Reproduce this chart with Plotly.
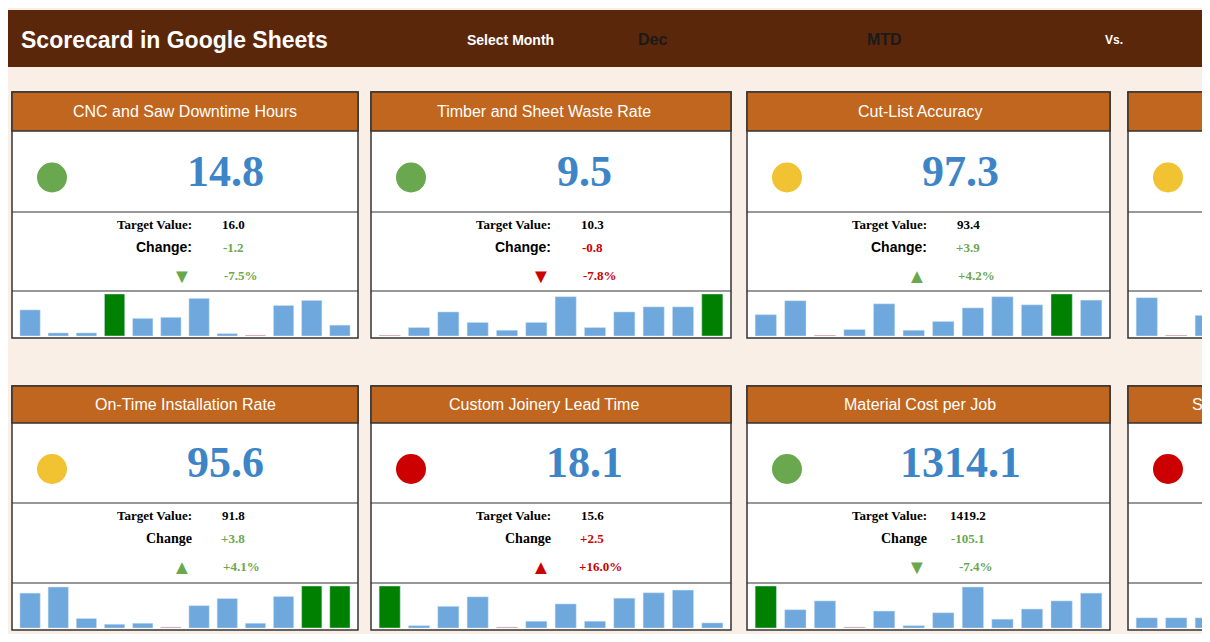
import plotly.graph_objects as go

W, H = 1210, 642
OFF = 8  # page body margin of the html page
FW, FH = W - 2 * OFF, H - 2 * OFF

# card data
titles = ["CNC and Saw Downtime Hours", "Timber and Sheet Waste Rate", "Cut-List Accuracy", "",
          "On-Time Installation Rate", "Custom Joinery Lead Time", "Material Cost per Job", "Snagging Items per Job"]
values = ["14.8", "9.5", "97.3", "", "95.6", "18.1", "1314.1", ""]
targets = ["16.0", "10.3", "93.4", "", "91.8", "15.6", "1419.2", ""]
changes = ["-1.2", "-0.8", "+3.9", "", "+3.8", "+2.5", "-105.1", ""]
pcts = ["-7.5%", "-7.8%", "+4.2%", "", "+4.1%", "+16.0%", "-7.4%", ""]
arrows = ["▼", "▼", "▲", "", "▲", "▲", "▼", ""]
good = [True, False, True, None, True, False, True, None]
status = ["#6aa84f", "#6aa84f", "#f1c232", "#f1c232", "#f1c232", "#cc0000", "#6aa84f", "#cc0000"]
spark = [
    [77, 9, 9, 124, 52, 55, 111, 7, 0, 90, 105, 32],
    [0, 25, 71, 40, 17, 40, 116, 25, 71, 86, 86, 124],
    [63, 104, 0, 19, 95, 17, 43, 83, 116, 92, 124, 106],
    [113, 0, 61, 40, 70, 55, 90, 80, 100, 124, 60, 75],
    [103, 121, 28, 11, 14, 0, 66, 87, 14, 93, 124, 124],
    [124, 7, 64, 92, 0, 20, 71, 20, 88, 104, 112, 15],
    [124, 54, 80, 0, 50, 7, 45, 121, 26, 56, 80, 103],
    [30, 30, 30, 45, 60, 124, 40, 70, 55, 90, 80, 35],
]

lefts = [12, 371, 747, 1128]
rights = [358, 731, 1110, 1500]
rows = [dict(top=92, hb=131, vb=212, db=291, bot=338),
        dict(top=386, hb=423, vb=503, db=583, bot=630)]


def px(x):
    return (x - OFF) / FW


def py(y):
    return 1 - (y - OFF) / FH


shapes, ann = [], []
fig = go.Figure()

# top banner
shapes.append(dict(type="rect", xref="paper", yref="paper", x0=0, x1=1, y0=py(67), y1=py(10),
                   fillcolor="#5b270b", line_width=0, layer="below"))
ann += [
    dict(x=px(330), y=py(40), text="<b>Scorecard in Google Sheets</b>", xanchor="right",
         font=dict(size=23, color="white", family="Liberation Sans")),
    dict(x=px(510), y=py(40), text="<b>Select Month</b>", font=dict(size=14, color="white", family="Liberation Sans")),
    dict(x=px(653), y=py(39), text="<b>Dec</b>", font=dict(size=16, color="#1a1a1a", family="Liberation Sans")),
    dict(x=px(884), y=py(39), text="<b>MTD</b>", font=dict(size=16, color="#1a1a1a", family="Liberation Sans")),
    dict(x=px(1114), y=py(40), text="<b>Vs.</b>", font=dict(size=12, color="white", family="Liberation Sans")),
]

for i in range(8):
    r = rows[i // 4]
    L, R = lefts[i % 4], rights[i % 4]
    # card frame and sections
    shapes.append(dict(type="rect", xref="paper", yref="paper", x0=px(L), x1=px(R), y0=py(r["bot"]), y1=py(r["top"]),
                       fillcolor="white", line=dict(color="#333", width=1.5), layer="below"))
    shapes.append(dict(type="rect", xref="paper", yref="paper", x0=px(L), x1=px(R), y0=py(r["hb"]), y1=py(r["top"]),
                       fillcolor="#c1661e", line=dict(color="#333", width=1.5), layer="below"))
    for yy in (r["vb"], r["db"]):
        shapes.append(dict(type="line", xref="paper", yref="paper", x0=px(L), x1=px(R), y0=py(yy), y1=py(yy),
                           line=dict(color="#333", width=1.2)))
    cy = (r["hb"] + r["vb"]) / 2 + 6
    shapes.append(dict(type="circle", xref="paper", yref="paper", x0=px(L + 25), x1=px(L + 55),
                       y0=py(cy + 15), y1=py(cy - 15), fillcolor=status[i], line_width=0))
    if i % 4 < 3:
        ann.append(dict(x=px(L + 173), y=py((r["top"] + r["hb"]) / 2), text=titles[i],
                        font=dict(size=16, color="white", family="Liberation Sans")))
    elif titles[i]:
        ann.append(dict(x=px(1190), y=py((r["top"] + r["hb"]) / 2), text=titles[i][:2], xanchor="left",
                        font=dict(size=16, color="white", family="Liberation Sans")))
    if values[i]:
        gc = "#6aa84f" if good[i] else "#cc0000"
        ann += [
            dict(x=px(L + 213), y=py(cy - 6), text="<b>%s</b>" % values[i],
                 font=dict(size=44, color="#3d85c6", family="Liberation Serif")),
            dict(x=px(L + 182), y=py(r["vb"] + 12), text="<b>Target Value:</b>", xanchor="right",
                 font=dict(size=13, color="black", family="Liberation Serif")),
            dict(x=px(L + 221), y=py(r["vb"] + 12), text="<b>%s</b>" % targets[i],
                 font=dict(size=13, color="black", family="Liberation Serif")),
            dict(x=px(L + 182), y=py(r["vb"] + 35), text="<b>%s</b>" % ("Change:" if i < 4 else "Change"),
                 xanchor="right", font=dict(size=14, color="black",
                                            family="Liberation Sans" if i < 4 else "Liberation Serif")),
            dict(x=px(L + 221), y=py(r["vb"] + 35), text="<b>%s</b>" % changes[i],
                 font=dict(size=13, color=gc, family="Liberation Serif")),
            dict(x=px(L + 170), y=py(r["vb"] + 63), text=arrows[i],
                 font=dict(size=20, color=gc)),
            dict(x=px(L + 229), y=py(r["vb"] + 63), text="<b>%s</b>" % pcts[i],
                 font=dict(size=13, color=gc, family="Liberation Serif")),
        ]
    # sparkline
    vals = spark[i]
    mx = max(vals)
    shown = [v if v > 0 else mx * 0.02 for v in vals]
    cols = ["#008000" if v == mx else ("#e06666" if v == 0 else "#6fa8dc") for v in vals]
    n = i + 1
    xa, ya = "x%d" % n if n > 1 else "x", "y%d" % n if n > 1 else "y"
    fig.add_trace(go.Bar(x=list(range(12)), y=shown, marker=dict(color=cols, line=dict(color="#cfe2f3", width=0.5)),
                         width=0.72, xaxis=xa, yaxis=ya, hoverinfo="skip", showlegend=False))
    key = "" if n == 1 else str(n)
    if i % 4 < 3:
        dom, rng = [px(L + 4), px(R - 4)], [-0.5, 11.5]
    else:
        dom, rng = [px(L + 4), 1], [-0.5, (W - OFF - L - 4) / 29.5 - 0.5]
    fig.layout["xaxis" + key] = dict(domain=dom, range=rng, visible=False, fixedrange=True)
    fig.layout["yaxis" + key] = dict(domain=[py(r["bot"] - 2), py(r["db"] + 3)], range=[0, mx],
                                     visible=False, fixedrange=True)

for a in ann:
    a.update(xref="paper", yref="paper", showarrow=False, yanchor="middle")
    a.setdefault("xanchor", "center")

fig.update_layout(width=FW, height=FH, margin=dict(l=0, r=0, t=0, b=0),
                  paper_bgcolor="#f9efe6", plot_bgcolor="rgba(0,0,0,0)",
                  shapes=shapes, annotations=ann, bargap=0.25)
fig.write_html("out.html")
